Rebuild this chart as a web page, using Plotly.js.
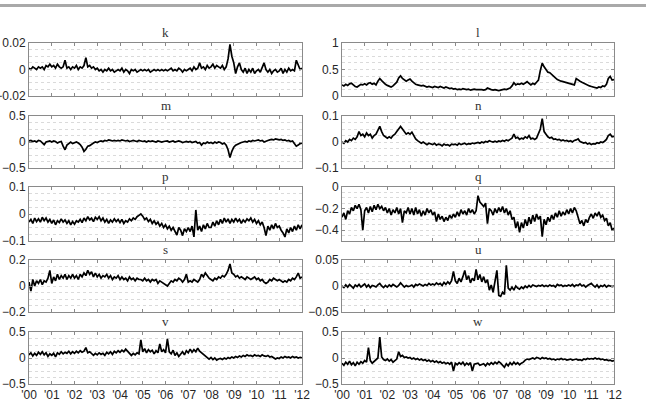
<!DOCTYPE html>
<html><head><meta charset="utf-8">
<script src="https://cdn.plot.ly/plotly-3.0.1.min.js"></script>
<style>html,body{margin:0;padding:0;background:#fff}#chart{width:646px;height:408px}</style>
</head><body><div id="chart"></div>
<script>
const yearTicks = [2000,2001,2002,2003,2004,2005,2006,2007,2008,2009,2010,2011,2012];
const yearLabels = ["'00","'01","'02","'03","'04","'05","'06","'07","'08","'09","'10","'11","'12"];
const panelTitles = ['k','l','m','n','p','q','s','u','v','w'];

const k = [
0.001,0.000,0.002,0.001,0.000,0.002,0.001,0.002,0.000,0.003,0.002,0.004,
0.002,0.003,0.001,0.004,0.002,0.001,0.002,0.007,0.001,0.002,0.000,0.002,
0.001,0.003,0.000,0.002,0.001,0.003,0.009,0.002,0.003,0.001,0.002,0.000,
0.001,-0.001,0.000,-0.002,0.000,-0.001,0.001,-0.001,0.000,-0.002,-0.001,0.000,
-0.001,0.001,-0.002,0.000,-0.001,-0.003,0.000,-0.001,0.000,-0.002,-0.001,0.000,
-0.001,0.000,-0.001,0.000,-0.002,-0.001,0.000,-0.001,0.000,-0.001,0.000,-0.001,
0.000,-0.001,0.000,0.001,-0.001,0.000,-0.001,0.001,0.000,-0.002,0.000,-0.001,
0.000,0.001,-0.001,0.002,0.000,0.001,0.005,0.001,0.002,0.000,0.003,0.001,
0.002,0.004,0.001,0.003,0.002,0.001,0.003,0.000,0.002,0.008,0.019,0.010,
0.005,-0.003,0.002,0.005,0.000,-0.002,0.001,-0.003,0.000,-0.002,0.001,-0.003,
-0.001,0.000,-0.002,0.001,0.005,0.000,-0.002,0.000,-0.003,-0.001,0.000,-0.002,
-0.001,0.001,-0.003,0.000,-0.002,0.001,-0.001,0.000,-0.001,0.007,0.003,0.000,
0.001];
const l = [
0.21,0.19,0.22,0.20,0.23,0.24,0.21,0.18,0.17,0.19,0.22,0.21,
0.23,0.21,0.24,0.25,0.22,0.24,0.21,0.28,0.33,0.29,0.25,0.22,
0.20,0.18,0.17,0.19,0.22,0.26,0.34,0.38,0.33,0.30,0.28,0.30,
0.32,0.28,0.25,0.22,0.21,0.20,0.19,0.20,0.18,0.17,0.18,0.17,
0.16,0.18,0.17,0.16,0.18,0.16,0.15,0.17,0.15,0.14,0.15,0.13,
0.14,0.12,0.13,0.12,0.14,0.13,0.12,0.13,0.11,0.12,0.13,0.12,
0.12,0.13,0.12,0.11,0.12,0.15,0.13,0.12,0.11,0.12,0.11,0.10,
0.11,0.12,0.13,0.12,0.14,0.15,0.19,0.25,0.21,0.23,0.22,0.24,
0.22,0.25,0.27,0.24,0.21,0.24,0.22,0.26,0.30,0.48,0.62,0.55,
0.50,0.45,0.44,0.40,0.36,0.34,0.31,0.29,0.28,0.27,0.26,0.25,
0.24,0.23,0.22,0.21,0.33,0.30,0.28,0.26,0.24,0.22,0.21,0.19,
0.18,0.17,0.16,0.15,0.17,0.16,0.19,0.18,0.22,0.33,0.37,0.30,
0.31];
const m = [
0.02,0.03,0.01,0.02,0.00,0.03,0.02,-0.02,-0.05,0.00,0.01,0.02,
0.00,0.02,0.01,-0.02,0.00,0.01,-0.08,-0.15,-0.06,-0.02,0.00,-0.03,
-0.01,0.00,-0.02,-0.05,-0.10,-0.18,-0.14,-0.08,-0.07,-0.04,-0.02,0.00,
-0.01,0.01,0.02,0.01,0.03,0.02,0.04,0.03,0.02,0.03,0.02,0.03,
0.02,0.04,0.03,0.02,0.03,0.01,0.02,0.03,0.02,0.01,0.03,0.02,
0.01,0.02,0.00,0.02,0.01,0.02,0.01,0.00,0.02,0.01,0.00,0.01,
0.01,0.02,0.00,0.01,0.02,0.00,0.01,0.02,0.01,-0.01,0.00,0.01,
0.00,0.01,-0.01,0.00,0.01,-0.02,-0.01,-0.06,-0.02,-0.03,0.00,-0.02,
-0.01,-0.03,0.00,-0.02,0.00,-0.01,-0.04,-0.02,-0.06,-0.15,-0.30,-0.18,
-0.10,-0.06,-0.04,-0.03,-0.01,0.00,0.01,0.00,0.02,0.01,0.03,0.02,
0.03,0.04,0.02,0.03,0.00,0.02,0.03,0.04,0.05,0.04,0.06,0.05,
0.04,0.05,0.03,0.04,0.02,0.03,0.01,0.02,-0.03,-0.08,-0.06,-0.03,
-0.02];
const n = [
0.000,-0.005,0.005,0.000,0.010,0.005,0.015,0.010,0.020,0.040,0.025,0.030,
0.020,0.035,0.025,0.030,0.015,0.025,0.030,0.045,0.060,0.040,0.025,0.020,
0.015,0.020,0.015,0.025,0.030,0.040,0.050,0.060,0.050,0.040,0.030,0.035,
0.030,0.038,0.025,0.012,0.005,0.000,-0.005,0.000,-0.005,-0.010,-0.005,-0.008,
-0.010,-0.005,-0.012,-0.008,-0.010,-0.015,-0.008,-0.012,-0.010,-0.015,-0.008,-0.010,
-0.008,-0.012,-0.005,-0.010,-0.008,-0.005,-0.010,-0.006,-0.008,-0.004,-0.006,-0.003,
-0.002,-0.005,0.000,-0.003,0.002,0.000,0.005,0.002,0.000,0.003,0.000,0.004,
0.002,0.006,0.003,0.008,0.005,0.010,0.015,0.030,0.015,0.018,0.010,0.015,
0.012,0.020,0.015,0.025,0.012,0.015,0.010,0.015,0.030,0.050,0.090,0.040,
0.030,0.020,0.015,0.018,0.010,0.012,0.008,0.010,0.005,0.008,0.004,0.006,
0.002,0.005,0.000,0.006,0.008,0.012,0.002,0.000,-0.004,-0.002,-0.008,-0.005,
-0.010,-0.006,-0.008,-0.003,-0.005,0.000,-0.002,0.003,0.010,0.025,0.030,0.020,
0.022];
const p = [
-0.030,-0.020,-0.035,-0.015,-0.028,-0.018,-0.030,-0.012,-0.025,-0.015,-0.030,-0.020,
-0.035,-0.022,-0.040,-0.025,-0.032,-0.018,-0.030,-0.022,-0.035,-0.025,-0.040,-0.028,
-0.038,-0.025,-0.030,-0.020,-0.032,-0.015,-0.025,-0.010,-0.022,-0.015,-0.028,-0.012,
-0.020,-0.010,-0.025,-0.015,-0.030,-0.020,-0.035,-0.022,-0.030,-0.018,-0.028,-0.020,
-0.032,-0.020,-0.035,-0.025,-0.030,-0.018,-0.025,-0.015,-0.020,-0.010,-0.005,0.000,
-0.008,-0.020,-0.015,-0.028,-0.020,-0.035,-0.025,-0.038,-0.030,-0.045,-0.035,-0.050,
-0.040,-0.055,-0.045,-0.060,-0.050,-0.065,-0.078,-0.050,-0.060,-0.080,-0.055,-0.065,
-0.050,-0.065,-0.045,-0.085,0.015,-0.060,-0.045,-0.065,-0.040,-0.055,-0.035,-0.050,
-0.050,-0.030,-0.045,-0.025,-0.040,-0.020,-0.035,-0.015,-0.030,-0.018,-0.035,-0.020,
-0.030,-0.015,-0.028,-0.020,-0.035,-0.022,-0.030,-0.018,-0.025,-0.015,-0.030,-0.020,
-0.035,-0.025,-0.040,-0.030,-0.050,-0.080,-0.045,-0.060,-0.040,-0.055,-0.035,-0.050,
-0.045,-0.060,-0.070,-0.085,-0.055,-0.070,-0.050,-0.065,-0.045,-0.060,-0.040,-0.055,
-0.040];
const q = [
-0.28,-0.24,-0.30,-0.22,-0.25,-0.19,-0.22,-0.17,-0.20,-0.16,-0.21,-0.40,
-0.22,-0.19,-0.24,-0.18,-0.23,-0.17,-0.21,-0.16,-0.20,-0.18,-0.22,-0.19,
-0.24,-0.20,-0.26,-0.21,-0.24,-0.19,-0.25,-0.20,-0.33,-0.22,-0.24,-0.19,
-0.25,-0.20,-0.26,-0.19,-0.25,-0.21,-0.27,-0.22,-0.26,-0.20,-0.24,-0.21,
-0.26,-0.23,-0.32,-0.25,-0.30,-0.27,-0.32,-0.28,-0.31,-0.26,-0.29,-0.25,
-0.28,-0.23,-0.27,-0.21,-0.25,-0.22,-0.26,-0.20,-0.24,-0.21,-0.25,-0.22,
-0.08,-0.14,-0.16,-0.18,-0.15,-0.34,-0.20,-0.22,-0.26,-0.20,-0.24,-0.19,
-0.23,-0.18,-0.24,-0.20,-0.26,-0.22,-0.30,-0.28,-0.38,-0.32,-0.42,-0.33,
-0.38,-0.30,-0.36,-0.28,-0.34,-0.26,-0.32,-0.25,-0.30,-0.27,-0.46,-0.30,
-0.35,-0.28,-0.32,-0.26,-0.30,-0.24,-0.28,-0.22,-0.27,-0.23,-0.26,-0.21,
-0.25,-0.20,-0.24,-0.19,-0.22,-0.29,-0.34,-0.31,-0.36,-0.30,-0.33,-0.28,
-0.25,-0.29,-0.24,-0.27,-0.23,-0.28,-0.26,-0.31,-0.29,-0.36,-0.33,-0.40,
-0.38];
const s = [
0.03,-0.04,0.05,0.00,0.04,0.02,0.05,0.01,0.04,0.03,0.06,0.12,
0.02,0.07,0.04,0.09,0.05,0.08,0.06,0.09,0.05,0.08,0.06,0.09,
0.06,0.08,0.05,0.09,0.07,0.10,0.08,0.12,0.09,0.11,0.07,0.10,
0.07,0.09,0.06,0.08,0.07,0.09,0.06,0.08,0.05,0.07,0.06,0.08,
0.05,0.07,0.05,0.06,0.04,0.07,0.05,0.06,0.04,0.06,0.05,0.05,
0.04,0.06,0.04,0.05,0.03,0.05,0.04,0.05,0.02,0.04,0.03,0.02,
0.01,0.00,0.02,0.04,0.03,0.05,0.04,0.06,0.05,0.03,0.05,0.09,
0.03,0.04,0.03,0.05,0.04,0.03,0.05,0.09,0.07,0.10,0.08,0.06,
0.05,0.04,0.06,0.05,0.07,0.06,0.08,0.07,0.09,0.12,0.17,0.10,
0.09,0.07,0.08,0.06,0.07,0.06,0.05,0.07,0.06,0.05,0.06,0.07,
0.05,0.06,0.04,0.05,0.03,0.02,0.03,0.05,0.04,0.06,0.05,0.04,
0.05,0.04,0.03,0.04,0.03,0.05,0.04,0.06,0.05,0.07,0.10,0.06,
0.07];
const u = [
0.000,-0.003,0.002,-0.002,0.003,0.000,-0.004,0.002,-0.001,0.003,-0.002,0.001,
0.004,-0.002,0.002,-0.003,0.001,0.000,-0.002,0.002,0.005,0.000,-0.003,0.001,
-0.002,0.002,-0.001,0.003,0.000,-0.002,0.001,0.006,0.002,-0.002,0.001,-0.001,
0.000,0.002,-0.002,0.003,0.001,0.004,0.002,0.000,0.003,0.001,0.005,0.002,
0.004,0.002,0.006,0.003,0.005,0.001,0.007,0.003,0.008,0.004,0.010,0.028,
0.010,0.005,0.015,0.008,0.018,0.030,0.012,0.020,0.006,0.015,0.010,0.032,
0.012,0.022,0.008,0.018,0.006,0.012,-0.008,0.002,-0.012,0.010,0.030,-0.018,
-0.020,-0.012,-0.016,0.040,-0.004,-0.008,-0.002,-0.008,0.000,-0.004,-0.006,-0.002,
-0.005,0.000,-0.003,0.001,-0.002,0.002,0.000,-0.001,0.001,0.000,0.002,-0.001,
0.001,-0.001,0.002,0.000,0.001,-0.002,0.003,0.001,0.002,-0.001,0.001,0.000,
0.002,0.000,0.003,-0.001,0.002,0.001,0.004,0.000,0.002,-0.002,0.001,0.003,
0.005,0.001,-0.002,0.002,-0.003,0.001,-0.001,0.002,-0.002,0.001,0.000,-0.001,
0.000];
const v = [
0.06,0.10,0.04,0.09,0.05,0.11,0.07,0.12,0.06,0.10,0.03,0.08,
0.05,0.09,0.02,0.10,0.07,0.12,0.08,0.11,0.09,0.13,0.08,0.12,
0.09,0.13,0.10,0.14,0.11,0.13,0.20,0.10,0.12,0.08,0.05,0.09,
0.06,0.10,0.07,0.09,0.05,0.11,0.08,0.12,0.07,0.13,0.10,0.14,
0.11,0.15,0.12,0.17,0.13,0.08,0.05,0.09,0.06,0.10,0.08,0.35,
0.12,0.18,0.10,0.16,0.12,0.15,0.08,0.14,0.10,0.27,0.12,0.16,
0.10,0.37,0.12,0.08,0.15,0.05,0.10,0.03,0.08,0.12,0.06,0.14,
0.10,0.17,0.11,0.16,0.12,0.19,0.13,0.10,0.06,0.03,0.00,-0.02,
0.01,-0.03,0.00,-0.04,-0.02,-0.01,-0.03,0.00,-0.02,0.01,-0.01,0.02,
0.00,0.03,0.01,0.04,0.02,0.05,0.03,0.06,0.04,0.05,0.03,0.06,
0.04,0.05,0.03,0.06,0.04,0.03,0.05,0.02,0.03,0.00,-0.02,0.00,
-0.01,0.02,0.00,0.03,0.01,0.02,0.00,0.03,0.01,0.02,0.00,0.01,
0.00];
const w = [
-0.10,-0.14,-0.08,-0.12,-0.06,-0.13,-0.09,-0.15,-0.08,-0.12,-0.07,-0.10,
-0.05,-0.08,0.20,-0.05,-0.10,-0.06,-0.03,0.00,0.40,0.02,-0.03,-0.05,
-0.02,-0.06,-0.03,-0.08,-0.05,-0.02,0.12,0.03,0.05,0.01,0.02,0.00,
0.01,-0.02,0.00,-0.03,-0.01,-0.04,-0.02,-0.05,-0.03,-0.06,-0.04,-0.07,
-0.05,-0.08,-0.06,-0.09,-0.07,-0.10,-0.08,-0.11,-0.09,-0.12,-0.08,-0.25,
-0.10,-0.13,-0.09,-0.12,-0.08,-0.14,-0.10,-0.13,-0.09,-0.25,-0.12,-0.11,
-0.10,-0.14,-0.12,-0.11,-0.15,-0.10,-0.13,-0.09,-0.12,-0.08,-0.11,-0.07,
-0.10,-0.14,-0.18,-0.11,-0.15,-0.09,-0.13,-0.08,-0.12,-0.09,-0.13,-0.10,
-0.08,-0.04,-0.02,-0.03,-0.01,0.00,-0.02,0.01,0.00,-0.02,0.01,-0.01,
0.00,-0.02,-0.01,-0.03,-0.02,-0.04,-0.02,-0.03,-0.01,-0.03,-0.02,-0.04,
-0.03,-0.02,-0.04,-0.03,-0.02,-0.04,-0.03,-0.05,-0.02,-0.03,-0.01,-0.02,
-0.01,-0.02,0.00,-0.02,-0.01,-0.03,-0.02,-0.04,-0.03,-0.05,-0.04,-0.06,
-0.05];

const series = [k,l,m,n,p,q,s,u,v,w];
const yRanges = [[-0.02,0.02],[0,1],[-0.5,0.5],[-0.1,0.1],[-0.1,0.1],[-0.5,0],[-0.2,0.2],[-0.05,0.05],[-0.5,0.5],[-0.5,0.5]];
const yTickVals = [[-0.02,0,0.02],[0,0.5,1],[-0.5,0,0.5],[-0.1,0,0.1],[-0.1,0,0.1],[-0.4,-0.2,0],[-0.2,0,0.2],[-0.05,0,0.05],[-0.5,0,0.5],[-0.5,0,0.5]];
const yTickText = [['−0.02','0','0.02'],['0','0.5','1'],['−0.5','0','0.5'],['−0.1','0','0.1'],['−0.1','0','0.1'],['−0.4','−0.2','0'],['−0.2','0','0.2'],['−0.05','0','0.05'],['−0.5','0','0.5'],['−0.5','0','0.5']];
const yMinorStep = [0.005,0.125,0.125,0.025,0.025,0.05,0.05,0.0125,0.125,0.125];

const W = 646, H = 408;
const colPx = [[29,302],[342,614]];
const rowPx = [[43,96],[116,168],[187,241],[260,312],[332,384]];
const axisColor = '#8a8a8a';
const gridColor = '#dadada';
const tickFont = {family:'Liberation Sans, Arial, sans-serif', size:12, color:'#262626'};

const traces = [];
const layout = {
  width:W, height:H, margin:{l:0,r:0,t:0,b:0},
  paper_bgcolor:'#fff', plot_bgcolor:'#fff', showlegend:false,
  annotations:[], shapes:[{type:'rect',xref:'paper',yref:'paper',x0:0,x1:1,y0:1-7/H,y1:1-4/H,fillcolor:'#a9a9a9',line:{width:0}}]
};

series.forEach((ys,i)=>{
  const c = i%2, r = Math.floor(i/2);
  const sfx = i===0 ? '' : String(i+1);
  const xs = ys.map((_,j)=>2000 + j/12);
  traces.push({x:xs, y:ys, type:'scatter', mode:'lines', line:{color:'#000',width:1.7},
    xaxis:'x'+sfx, yaxis:'y'+sfx, hoverinfo:'skip'});
  const xd = [colPx[c][0]/W, colPx[c][1]/W];
  const yd = [1-rowPx[r][1]/H, 1-rowPx[r][0]/H];
  layout['xaxis'+sfx] = {
    domain:xd, anchor:'y'+sfx, range:[2000,2012], tickmode:'array', tickvals:yearTicks, ticktext:yearLabels,
    showticklabels: r===4, ticks:'inside', ticklen:3, tickcolor:axisColor, showline:true, linecolor:axisColor, linewidth:1,
    mirror:'ticks', showgrid:false, zeroline:false, tickfont:tickFont, fixedrange:true
  };
  layout['yaxis'+sfx] = {
    domain:yd, anchor:'x'+sfx, range:yRanges[i], tickmode:'array', tickvals:yTickVals[i], ticktext:yTickText[i],
    ticks:'inside', ticklen:3, tickcolor:axisColor, showline:true, linecolor:axisColor, linewidth:1, mirror:'ticks',
    showgrid:true, gridcolor:gridColor, griddash:'dot', gridwidth:1, zeroline:false, tickfont:tickFont, fixedrange:true,
    minor:{tick0:0, dtick:yMinorStep[i], showgrid:true, gridcolor:gridColor, griddash:'dot', gridwidth:1, ticks:''}
  };
  layout.annotations.push({text:panelTitles[i], xref:'paper', yref:'paper', x:(xd[0]+xd[1])/2, y:yd[1],
    xanchor:'center', yanchor:'bottom', yshift:1, showarrow:false,
    font:{family:'Liberation Serif, Times New Roman, serif', size:13, color:'#333'}});
});

Plotly.newPlot('chart', traces, layout, {staticPlot:true, displayModeBar:false});
</script></body></html>
